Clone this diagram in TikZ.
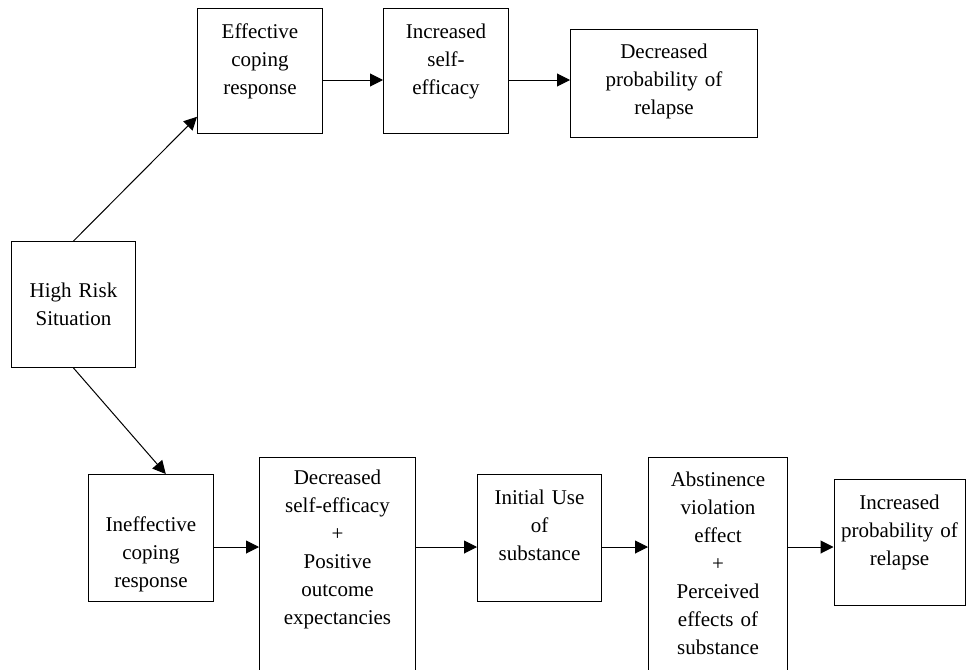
\documentclass[tikz,border=0pt]{standalone}
\usepackage{fontspec}
\setmainfont{Liberation Serif}
\usetikzlibrary{arrows.meta}

\begin{document}
\begin{tikzpicture}[x=1pt, y=-1pt, line width=1pt, >={Triangle[length=13pt,width=13pt]},
  box/.style={draw, anchor=north west, align=center, inner sep=0pt,
    font=\fontsize{21}{28}\selectfont}]
\clip (0,0) rectangle (966,669);
% left box
\node[box, text width=124pt, text height=56pt, text depth=70pt] (hrs) at (11,241) {High Risk\\Situation};
% upper row
\node[box, text width=125pt, text height=30pt, text depth=95pt] (ecr) at (197,8) {Effective\\coping\\response};
\node[box, text width=125pt, text height=30pt, text depth=95pt] (ise) at (383,8) {Increased\\self-\\efficacy};
\node[box, text width=187pt, text height=29pt, text depth=79pt] (dpr) at (570,29) {Decreased\\probability of\\relapse};
% lower row
\node[box, text width=125pt, text height=57pt, text depth=70pt] (icr) at (88,474) {Ineffective\\coping\\response};
\node[box, text width=156pt, text height=27pt, text depth=230pt] (dse) at (259,457) {Decreased\\self-efficacy\\+\\Positive\\outcome\\expectancies};
\node[box, text width=124pt, text height=30pt, text depth=97pt] (ius) at (477,474) {Initial Use\\of\\substance};
\node[box, text width=139pt, text height=29pt, text depth=230pt] (ave) at (648,457) {Abstinence\\violation\\effect\\+\\Perceived\\effects of\\substance};
\node[box, text width=131pt, text height=30pt, text depth=96pt] (ipr) at (833.5,479) {Increased\\probability of\\relapse};
\coordinate (toprow) at (0,80);
\coordinate (botrow) at (0,547);
% connectors
\draw[->] (hrs.north) -- (ecr.216.6);
\draw[->] (hrs.south) -- (icr.77);
\draw[->] (ecr.east |- toprow) -- (ise.west |- toprow);
\draw[->] (ise.east |- toprow) -- (dpr.west |- toprow);
\foreach \a/\b in {icr/dse,dse/ius,ius/ave,ave/ipr}
  {\draw[->] (\a.east |- botrow) -- (\b.west |- botrow);}
\end{tikzpicture}
\end{document}
